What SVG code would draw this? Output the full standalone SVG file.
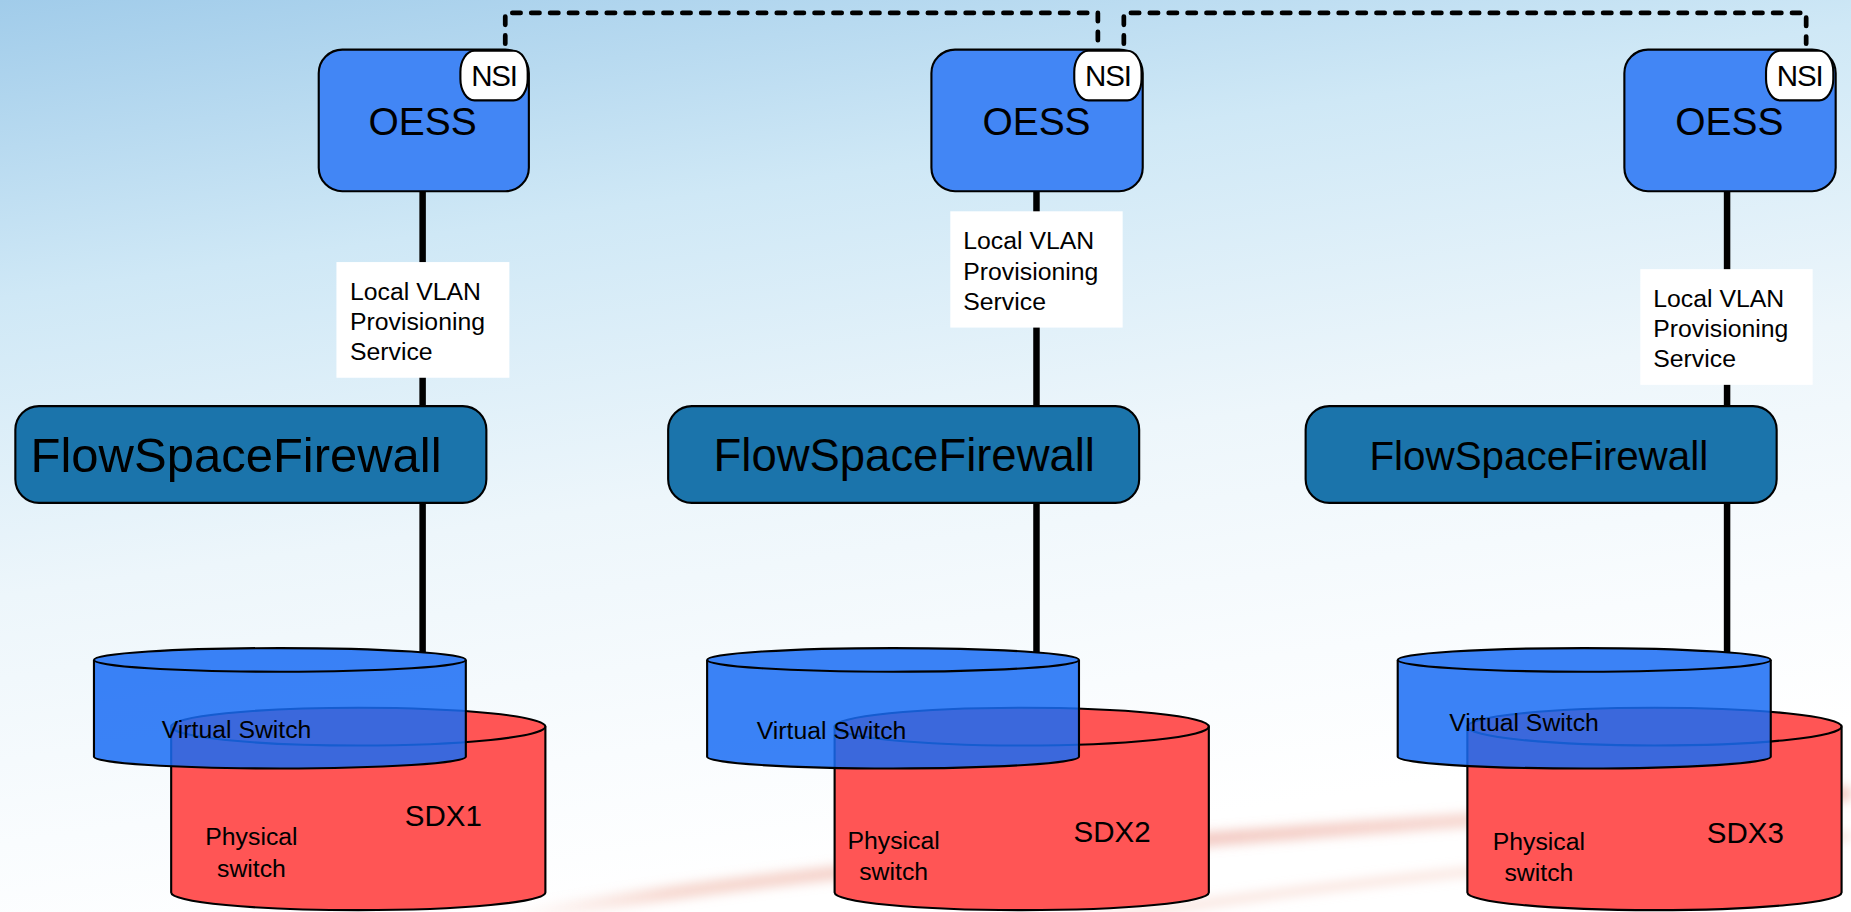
<svg xmlns="http://www.w3.org/2000/svg" width="1851" height="912" viewBox="0 0 1851 912">
<defs>
  <linearGradient id="bg" x1="0" y1="0" x2="0.3" y2="1">
    <stop offset="0" stop-color="#a1ccea"/>
    <stop offset="0.3" stop-color="#cfe8f6"/>
    <stop offset="0.6" stop-color="#edf6fb"/>
    <stop offset="0.85" stop-color="#f9fcfe"/>
    <stop offset="1" stop-color="#ffffff"/>
  </linearGradient>
  <linearGradient id="sw" gradientUnits="userSpaceOnUse" x1="430" y1="0" x2="1568" y2="0">
    <stop offset="0" stop-color="#f2b8a8" stop-opacity="0"/>
    <stop offset="0.12" stop-color="#eeb0a0" stop-opacity="0.5"/>
    <stop offset="0.5" stop-color="#e58f7f" stop-opacity="0.5"/>
    <stop offset="0.8" stop-color="#efb2a4" stop-opacity="0.45"/>
    <stop offset="1" stop-color="#ea9a8a" stop-opacity="0.55"/>
  </linearGradient>
  <filter id="blur" x="-10%" y="-100%" width="120%" height="300%"><feGaussianBlur stdDeviation="4.5"/></filter>
</defs>
<style>
  .oess{fill:#4286f5;stroke:#000;stroke-width:1.8}
  .nsi{fill:#fff;stroke:#000;stroke-width:1.8}
  .fsf{fill:#1b74ab;stroke:#000;stroke-width:1.8}
  .lbl{fill:#fff}
  .wire{stroke:#000;stroke-width:5.5;fill:none}
  .dash{stroke:#000;stroke-width:4;fill:none;stroke-dasharray:7 9;stroke-linecap:round}
  .t{font-family:"Liberation Sans",Arial,sans-serif;fill:#000}
  .blue{fill:#196cf5;fill-opacity:0.85;stroke:#000;stroke-width:1.8}
  .red{fill:#ff5555;stroke:#000;stroke-width:1.8}
  .edge{fill:none;stroke:#000;stroke-width:1.8}
  .redge{fill:none;stroke:#000;stroke-width:1.8}
</style>
<rect x="0" y="0" width="1851" height="912" fill="url(#bg)"/>
<g transform="scale(1.1805)">
  <g id="background-swoosh" filter="url(#blur)">
    <path d="M430,778 C700,730 1000,712 1568,672" fill="none" stroke="url(#sw)" stroke-width="12"/>
    <path d="M900,784 C1100,750 1300,732 1568,708" fill="none" stroke="#f3c6ba" stroke-width="7" opacity="0.5"/>
  </g>

  <g id="connectors">
    <line class="wire" x1="358" y1="160" x2="358" y2="553"/>
    <line class="wire" x1="878" y1="160" x2="878" y2="553"/>
    <line class="wire" x1="1463" y1="160" x2="1463" y2="553"/>
    <path class="dash" d="M428,37 V11 H930 V37"/>
    <path class="dash" d="M952,37 V11 H1530 V37"/>
    <g id="label-1">
      <rect class="lbl" x="285" y="222" width="146.5" height="98"/>
      <text class="t" font-size="21"><tspan x="296.5" y="254">Local VLAN</tspan><tspan x="296.5" y="279.5">Provisioning</tspan><tspan x="296.5" y="305">Service</tspan></text>
    </g>
    <g id="label-2">
      <rect class="lbl" x="805" y="179" width="146" height="98.5"/>
      <text class="t" font-size="21"><tspan x="816" y="211">Local VLAN</tspan><tspan x="816" y="237">Provisioning</tspan><tspan x="816" y="262.5">Service</tspan></text>
    </g>
    <g id="label-3">
      <rect class="lbl" x="1389.5" y="228" width="146" height="98"/>
      <text class="t" font-size="21"><tspan x="1400.5" y="260">Local VLAN</tspan><tspan x="1400.5" y="285.5">Provisioning</tspan><tspan x="1400.5" y="311">Service</tspan></text>
    </g>
  </g>

  <g id="oess-1">
    <rect class="oess" x="270" y="42" width="178" height="120" rx="20" ry="20"/>
    <rect class="nsi" x="390" y="43" width="57" height="42" rx="12" ry="18"/>
    <text class="t" x="418.5" y="73" font-size="25" letter-spacing="-1" text-anchor="middle">NSI</text>
    <text class="t" x="358" y="114" font-size="33" text-anchor="middle">OESS</text>
  </g>
  <g id="oess-2">
    <rect class="oess" x="789" y="42" width="179" height="120" rx="20" ry="20"/>
    <rect class="nsi" x="910" y="43" width="57" height="42" rx="12" ry="18"/>
    <text class="t" x="938.5" y="73" font-size="25" letter-spacing="-1" text-anchor="middle">NSI</text>
    <text class="t" x="878" y="114" font-size="33" text-anchor="middle">OESS</text>
  </g>
  <g id="oess-3">
    <rect class="oess" x="1376" y="42" width="179" height="120" rx="20" ry="20"/>
    <rect class="nsi" x="1496" y="43" width="57" height="42" rx="12" ry="18"/>
    <text class="t" x="1524.5" y="73" font-size="25" letter-spacing="-1" text-anchor="middle">NSI</text>
    <text class="t" x="1465" y="114" font-size="33" text-anchor="middle">OESS</text>
  </g>

  <g id="fsf-1">
    <rect class="fsf" x="13" y="344" width="399" height="82" rx="20" ry="20"/>
    <text class="t" x="200" y="400" font-size="41.5" text-anchor="middle">FlowSpaceFirewall</text>
  </g>
  <g id="fsf-2">
    <rect class="fsf" x="566" y="344" width="399" height="82" rx="20" ry="20"/>
    <text class="t" x="766" y="399" font-size="38.5" text-anchor="middle">FlowSpaceFirewall</text>
  </g>
  <g id="fsf-3">
    <rect class="fsf" x="1106" y="344" width="399" height="82" rx="20" ry="20"/>
    <text class="t" x="1303.5" y="398" font-size="34.2" text-anchor="middle">FlowSpaceFirewall</text>
  </g>

  <g id="sdx1">
    <path class="red" d="M145,615.5 A158.5,16 0 0 1 462,615.5 V756 A158.5,15 0 0 1 145,756 Z"/>
    <path class="redge" d="M145,615.5 A158.5,16 0 0 0 462,615.5"/>
    <text class="t" x="375.5" y="700" font-size="25" text-anchor="middle">SDX1</text>
    <text class="t" font-size="21" text-anchor="middle"><tspan x="213" y="716">Physical</tspan><tspan x="213" y="743">switch</tspan></text>
    <g id="vswitch-1">
      <path class="blue" d="M79.6,559 A157.5,10 0 0 1 394.6,559 V641 A157.5,10 0 0 1 79.6,641 Z"/>
      <path class="edge" d="M79.6,559 A157.5,10 0 0 0 394.6,559"/>
      <text class="t" x="137" y="625" font-size="21">Virtual Switch</text>
    </g>
  </g>
  <g id="sdx2">
    <path class="red" d="M707,615.5 A158.5,16 0 0 1 1024,615.5 V756 A158.5,15 0 0 1 707,756 Z"/>
    <path class="redge" d="M707,615.5 A158.5,16 0 0 0 1024,615.5"/>
    <text class="t" x="942" y="713.5" font-size="25" text-anchor="middle">SDX2</text>
    <text class="t" font-size="21" text-anchor="middle"><tspan x="757" y="719.5">Physical</tspan><tspan x="757" y="745.5">switch</tspan></text>
    <g id="vswitch-2">
      <path class="blue" d="M599,559 A157.5,10 0 0 1 914,559 V641 A157.5,10 0 0 1 599,641 Z"/>
      <path class="edge" d="M599,559 A157.5,10 0 0 0 914,559"/>
      <text class="t" x="641" y="626.3" font-size="21">Virtual Switch</text>
    </g>
  </g>
  <g id="sdx3">
    <path class="red" d="M1243,615.5 A158.5,16 0 0 1 1560,615.5 V756 A158.5,15 0 0 1 1243,756 Z"/>
    <path class="redge" d="M1243,615.5 A158.5,16 0 0 0 1560,615.5"/>
    <text class="t" x="1478.5" y="713.8" font-size="25" text-anchor="middle">SDX3</text>
    <text class="t" font-size="21" text-anchor="middle"><tspan x="1303.6" y="720">Physical</tspan><tspan x="1303.6" y="746.3">switch</tspan></text>
    <g id="vswitch-3">
      <path class="blue" d="M1184,559 A157.5,10 0 0 1 1500,559 V641 A157.5,10 0 0 1 1184,641 Z"/>
      <path class="edge" d="M1184,559 A157.5,10 0 0 0 1500,559"/>
      <text class="t" x="1227.6" y="619.2" font-size="21">Virtual Switch</text>
    </g>
  </g>
</g>
</svg>
